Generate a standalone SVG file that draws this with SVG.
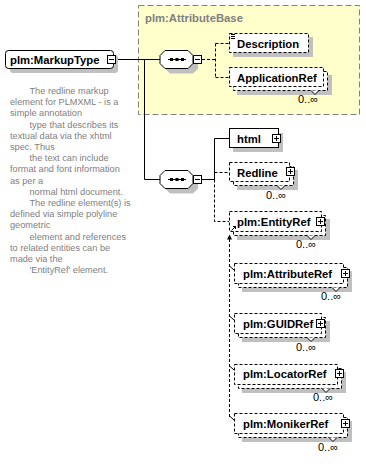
<svg xmlns="http://www.w3.org/2000/svg" xmlns:xlink="http://www.w3.org/1999/xlink" width="366" height="466" viewBox="0 0 366 466">
<style>
.sh{fill:#c0c0c0}
.box{fill:#fff;stroke:#000;stroke-width:1}
.opt{fill:#fff;stroke:#000;stroke-width:1;stroke-dasharray:3,2}
.lbl{font-family:"Liberation Sans",Arial,sans-serif;font-weight:bold;font-size:11.3px;fill:#000}
.occ{font-family:"Liberation Sans",Arial,sans-serif;font-size:11px;fill:#000}
.desc{font-family:"Liberation Sans",Arial,sans-serif;font-size:9.2px;fill:#808080}
.ln{fill:none;stroke:#000;stroke-width:1}
.dl{fill:none;stroke:#000;stroke-width:1;stroke-dasharray:3,2}
.notch{fill:#fff;stroke:#000;stroke-width:1}
</style>
<defs>
<g id="plusbtn"><rect x="0.5" y="0.5" width="8" height="8" fill="#fff" stroke="#000"/><path d="M2,4.5H7M4.5,2V7" stroke="#000" fill="none"/></g>
<g id="minusbtn"><rect x="0.5" y="0.5" width="8" height="8" fill="#fff" stroke="#000"/><path d="M2,4.5H7" stroke="#000" fill="none"/></g>
<g id="seq">
<polygon points="5,0.5 28,0.5 33,5.5 33,13.5 28,18.5 5,18.5 0,13.5 0,5.5" fill="#c0c0c0" transform="translate(5,5)"/>
<polygon points="5,0.5 28,0.5 33,5.5 33,13.5 28,18.5 5,18.5 0,13.5 0,5.5" fill="#fff" stroke="#000"/>
<path d="M8,9.5H26" stroke="#000" fill="none"/>
<rect x="10" y="8" width="3" height="3" fill="#000"/>
<rect x="15.5" y="8" width="3" height="3" fill="#000"/>
<rect x="21" y="8" width="3" height="3" fill="#000"/>
</g>
</defs>

<g id="attributeBase">
<rect x="138.5" y="5.5" width="221" height="109" fill="#ffffcc" stroke="#808080" stroke-dasharray="6,3"/>
<text x="145" y="22" class="lbl" style="fill:#808080">plm:AttributeBase</text>
</g>

<g id="connectors">
<path class="ln" d="M116,59.5H160M144.5,59.5V179.5H160"/>
<path class="dl" d="M202,59.5H215.5M215.5,43.5V77.5M215.5,43.5H229M215.5,77.5H229"/>
<path class="ln" d="M202,179.5H214.5V138.5H229"/>
<path class="dl" d="M214.5,179.5V221.5H229M214.5,172.5H229"/>
<path class="dl" d="M229.5,239V417"/>
<polygon points="229.5,234.5 227,239.5 232,239.5" fill="#000"/>
<path class="ln" d="M229.5,266L234,270M229.5,316L234,320M229.5,366L234,370M229.5,416L234,420"/>
</g>

<g id="MarkupType">
<rect x="10" y="55" width="108" height="18" rx="3" class="sh"/>
<rect x="5.5" y="50.5" width="108" height="18" rx="3" class="box"/>
<text x="10" y="64" class="lbl">plm:MarkupType</text>
<use xlink:href="#minusbtn" x="107" y="55"/>
</g>

<g id="description">
<text class="desc" x="29.5" y="94">The redline markup</text>
<text class="desc" x="10" y="105.2">element for PLMXML - is a</text>
<text class="desc" x="10" y="116.4">simple annotation</text>
<text class="desc" x="29.5" y="127.6">type that describes its</text>
<text class="desc" x="10" y="138.8">textual data via the xhtml</text>
<text class="desc" x="10" y="150">spec. Thus</text>
<text class="desc" x="29.5" y="161.2">the text can include</text>
<text class="desc" x="10" y="172.4">format and font information</text>
<text class="desc" x="10" y="183.6">as per a</text>
<text class="desc" x="29.5" y="194.8">normal html document.</text>
<text class="desc" x="29.5" y="206">The redline element(s) is</text>
<text class="desc" x="10" y="217.2">defined via simple polyline</text>
<text class="desc" x="10" y="228.4">geometric</text>
<text class="desc" x="29.5" y="239.6">element and references</text>
<text class="desc" x="10" y="250.8">to related entities can be</text>
<text class="desc" x="10" y="262">made via the</text>
<text class="desc" x="29.5" y="273.2">'EntityRef' element.</text>
</g>

<g id="seq1">
<use xlink:href="#seq" x="160" y="50"/>
<use xlink:href="#minusbtn" x="193" y="55"/>
</g>

<g id="Description">
<rect x="233" y="37" width="80" height="20" class="sh"/>
<rect x="229.5" y="33.5" width="79" height="19" class="opt"/>
<path class="ln" d="M231,34.5H235M231,36.5H235M231,38.5H235"/>
<text x="237" y="47.5" class="lbl">Description</text>
</g>

<g id="ApplicationRef">
<rect x="237" y="75" width="95" height="20" class="sh"/>
<rect x="233.5" y="71.5" width="94" height="19" class="opt"/>
<rect x="229.5" y="67.5" width="94" height="19" class="opt"/>
<polyline points="311,90.5 315,94.5 319,90.5" class="notch"/>
<text x="237" y="81.5" class="lbl">ApplicationRef</text>
<text x="298" y="102.5" class="occ">0..∞</text>
</g>

<g id="seq2">
<use xlink:href="#seq" x="160" y="170"/>
<use xlink:href="#minusbtn" x="193" y="175"/>
</g>

<g id="html">
<rect x="233" y="133" width="50" height="19" class="sh"/>
<rect x="229.5" y="128.5" width="49" height="19" class="box"/>
<text x="237" y="142.5" class="lbl">html</text>
<use xlink:href="#plusbtn" x="272" y="134"/>
</g>

<g id="Redline">
<rect x="237" y="170" width="61" height="20" class="sh"/>
<rect x="233.5" y="166.5" width="60" height="19" class="opt"/>
<rect x="229.5" y="162.5" width="60" height="19" class="opt"/>
<polyline points="277,185.5 281,189.5 285,185.5" class="notch"/>
<text x="237" y="176.5" class="lbl">Redline</text>
<use xlink:href="#plusbtn" x="286" y="167"/>
<text x="266" y="198.5" class="occ">0..∞</text>
</g>

<g id="EntityRef">
<rect x="237" y="219" width="93" height="21" class="sh"/>
<rect x="233.5" y="215.5" width="92" height="20" class="opt"/>
<rect x="229.5" y="211.5" width="92" height="20" class="opt"/>
<polyline points="307,235.5 311,239.5 315,235.5" class="notch"/>
<text x="237" y="225.5" class="lbl">plm:EntityRef</text>
<use xlink:href="#plusbtn" x="316" y="217"/>
<path class="ln" d="M231.5,230.5L235.5,226.5M233,226.5H235.5V229"/>
<text x="296" y="247.5" class="occ">0..∞</text>
</g>

<g id="AttributeRef">
<rect x="242" y="271" width="110" height="21" class="sh"/>
<rect x="238.5" y="267.5" width="109" height="20" class="opt"/>
<rect x="234.5" y="263.5" width="109" height="20" class="opt"/>
<polyline points="332,287.5 336,291.5 340,287.5" class="notch"/>
<text x="243" y="277.5" class="lbl">plm:AttributeRef</text>
<use xlink:href="#plusbtn" x="341" y="269"/>
<text x="321" y="299.5" class="occ">0..∞</text>
</g>

<g id="GUIDRef">
<rect x="242" y="321" width="88" height="21" class="sh"/>
<rect x="238.5" y="317.5" width="87" height="20" class="opt"/>
<rect x="234.5" y="313.5" width="87" height="20" class="opt"/>
<polyline points="307,337.5 311,341.5 315,337.5" class="notch"/>
<text x="243" y="327.5" class="lbl">plm:GUIDRef</text>
<use xlink:href="#plusbtn" x="316" y="319"/>
<text x="296" y="350.5" class="occ">0..∞</text>
</g>

<g id="LocatorRef">
<rect x="242" y="372" width="104" height="21" class="sh"/>
<rect x="238.5" y="368.5" width="103" height="20" class="opt"/>
<rect x="234.5" y="364.5" width="103" height="20" class="opt"/>
<polyline points="322,388.5 326,392.5 330,388.5" class="notch"/>
<text x="243" y="378" class="lbl">plm:LocatorRef</text>
<use xlink:href="#plusbtn" x="335" y="369"/>
<text x="313" y="400.5" class="occ">0..∞</text>
</g>

<g id="MonikerRef">
<rect x="242" y="421" width="110" height="21" class="sh"/>
<rect x="238.5" y="417.5" width="109" height="20" class="opt"/>
<rect x="234.5" y="413.5" width="109" height="20" class="opt"/>
<polyline points="329,437.5 333,441.5 337,437.5" class="notch"/>
<text x="243" y="427.5" class="lbl">plm:MonikerRef</text>
<use xlink:href="#plusbtn" x="341" y="419"/>
<text x="318" y="450.5" class="occ">0..∞</text>
</g>
</svg>
